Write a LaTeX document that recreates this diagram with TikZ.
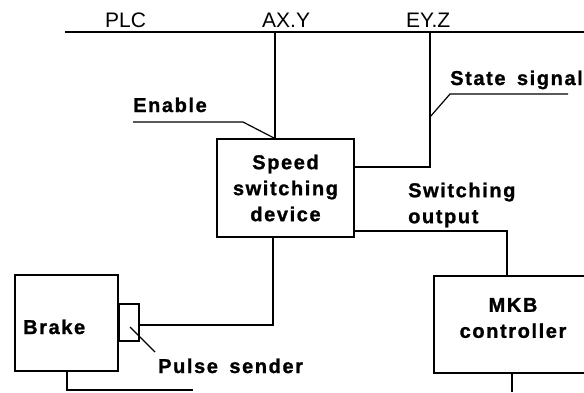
\documentclass[tikz,border=0pt]{standalone}
\usepackage{fontspec}
\setmainfont{Liberation Sans}
\newfontfamily\lblfont[LetterSpace=8,WordSpace=1.6,FakeBold=1.2,UprightFont={* Bold},BoldFont={* Bold}]{Liberation Sans}
\usetikzlibrary{positioning,calc}

\begin{document}
\begin{tikzpicture}[x=1pt,y=-1pt,
  box/.style={draw, line width=1.4pt, inner sep=0pt},
  wire/.style={line width=1.2pt},
  lbl/.style={font=\lblfont\fontsize{20}{26}\selectfont, inner sep=0pt},
  buslbl/.style={font=\fontsize{21}{24}\selectfont, inner sep=0pt}]
\useasboundingbox (0,0) rectangle (584,392);
\clip (0,0) rectangle (584,392);

% blocks
\node[box, lbl, align=center, minimum width=137pt, minimum height=98pt] (speed) at (285.5,188) {Speed\\switching\\device};
\node[box, minimum width=103pt, minimum height=96pt] (brake) at (66.5,323) {};
\node[box, minimum width=20pt, minimum height=37pt] (pulse) at (129,322.5) {};
\node[box, minimum width=160pt, minimum height=97pt] (mkb) at (514,324.5) {};
\node[lbl, anchor=base west] (braketxt) at (23,334) {Brake};
\node[lbl, align=center] (mkbtxt) at (513,318) {MKB\\controller};

% PLC bus
\coordinate (busL) at (65,32);
\coordinate (busR) at (584,32);
\coordinate (ax) at (275,32);
\coordinate (ey) at (430,32);
\draw[wire] (busL) -- (busR);
\node[buslbl, anchor=base west] (plc) at (105,27) {PLC};
\node[buslbl, anchor=base west] (axy) at (262,27) {AX.Y};
\node[buslbl, anchor=base west] (eyz) at (406,27) {EY.Z};

% signals
\draw[wire] (ax) -- (speed.north -| ax);
\draw[wire] (ey) |- ([yshift=21pt]speed.east);
\coordinate (outx) at (507,231);
\draw[wire] (speed.east |- outx) -| (mkb.north -| outx);
\coordinate (pulsex) at (273,325);
\draw[wire] (pulse.east |- pulsex) -| (speed.south -| pulsex);
\coordinate (brkturn) at (67,390);
\coordinate (brkend) at (193,390);
\draw[wire] (brake.south -| brkturn) -- (brkturn) -- (brkend);
\coordinate (mkbend) at (512,392);
\draw[wire] (mkb.south -| mkbend) -- (mkbend);

% leaders
\coordinate (enL) at (133,122);
\coordinate (enK) at (243,122);
\draw[wire] (enL) -- (enK) -- (274,138);
\node[lbl, anchor=base west] (enable) at (133,112) {Enable};
\coordinate (stK) at (450,94);
\coordinate (stR) at (568,94);
\draw[wire] (430,117) -- (stK) -- (stR);
\node[lbl, anchor=base east] (state) at (583,85) {State signal};
\node[lbl, anchor=west, align=left] (swout) at (408,205) {Switching\\output};
\coordinate (psK) at (155,352);
\draw[wire] (130,327) -- (psK);
\node[lbl, anchor=base west] (pulsetxt) at (158,373) {Pulse sender};
\end{tikzpicture}
\end{document}
